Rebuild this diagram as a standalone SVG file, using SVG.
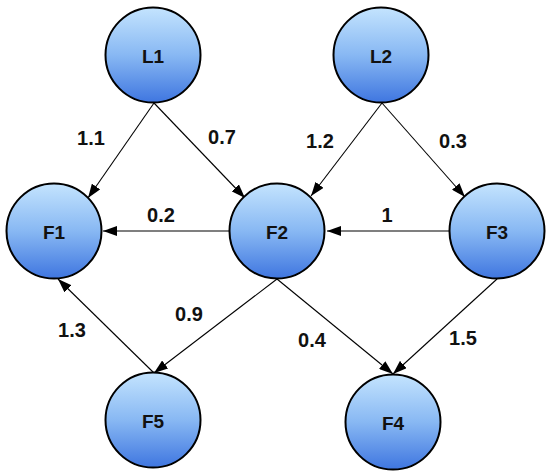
<svg xmlns="http://www.w3.org/2000/svg" width="550" height="476" viewBox="0 0 550 476">
<defs>
<linearGradient id="g" x1="0" y1="0" x2="0" y2="1">
<stop offset="0" stop-color="#c4e4fe"/>
<stop offset="0.5" stop-color="#88b8f3"/>
<stop offset="1" stop-color="#3f76e0"/>
</linearGradient>
<marker id="a" markerWidth="14" markerHeight="10" refX="14" refY="5" orient="auto" markerUnits="userSpaceOnUse">
<path d="M0,0 L14,5 L0,10 z" fill="#000"/>
</marker>
<style>
.n{fill:url(#g);stroke:#000;stroke-width:2}
.t{font-family:"Liberation Sans",Arial,sans-serif;font-weight:bold;font-size:19px;fill:#111;text-anchor:middle;dominant-baseline:central}
.e{stroke:#000;stroke-width:1.1;fill:none;marker-end:url(#a)}
.l{font-family:"Liberation Sans",Arial,sans-serif;font-weight:bold;font-size:20px;fill:#111;text-anchor:middle;dominant-baseline:central}
</style>
</defs>
<rect width="550" height="476" fill="#fff"/>
<g id="connectors">
<line class="e" x1="154" y1="103" x2="88" y2="198"/>
<line class="e" x1="154" y1="103" x2="245" y2="198"/>
<line class="e" x1="382" y1="103" x2="311" y2="196"/>
<line class="e" x1="382" y1="103" x2="465" y2="197"/>
<line class="e" x1="229" y1="231" x2="103" y2="231"/>
<line class="e" x1="449" y1="231" x2="327" y2="231"/>
<line class="e" x1="277" y1="279" x2="154" y2="373"/>
<line class="e" x1="154" y1="373" x2="58" y2="279"/>
<line class="e" x1="277" y1="279" x2="393" y2="374"/>
<line class="e" x1="497" y1="279" x2="393" y2="374"/>
<text class="l" x="91" y="138">1.1</text>
<text class="l" x="222" y="137">0.7</text>
<text class="l" x="320" y="141">1.2</text>
<text class="l" x="453" y="141">0.3</text>
<text class="l" x="161" y="215">0.2</text>
<text class="l" x="387" y="215">1</text>
<text class="l" x="189" y="314">0.9</text>
<text class="l" x="72" y="330">1.3</text>
<text class="l" x="312" y="340">0.4</text>
<text class="l" x="463" y="338">1.5</text>
</g>
<g id="L1"><circle class="n" cx="153" cy="55" r="47.5"/><text class="t" x="153" y="56">L1</text></g>
<g id="L2"><circle class="n" cx="381" cy="55" r="47.5"/><text class="t" x="381" y="56">L2</text></g>
<g id="F1"><circle class="n" cx="54" cy="231" r="47.5"/><text class="t" x="54" y="232">F1</text></g>
<g id="F2"><circle class="n" cx="277" cy="231" r="47.5"/><text class="t" x="277" y="232">F2</text></g>
<g id="F3"><circle class="n" cx="497" cy="231" r="47.5"/><text class="t" x="497" y="232">F3</text></g>
<g id="F5"><circle class="n" cx="153" cy="420" r="47.5"/><text class="t" x="153" y="421">F5</text></g>
<g id="F4"><circle class="n" cx="393" cy="422" r="47.5"/><text class="t" x="393" y="423">F4</text></g>
</svg>
